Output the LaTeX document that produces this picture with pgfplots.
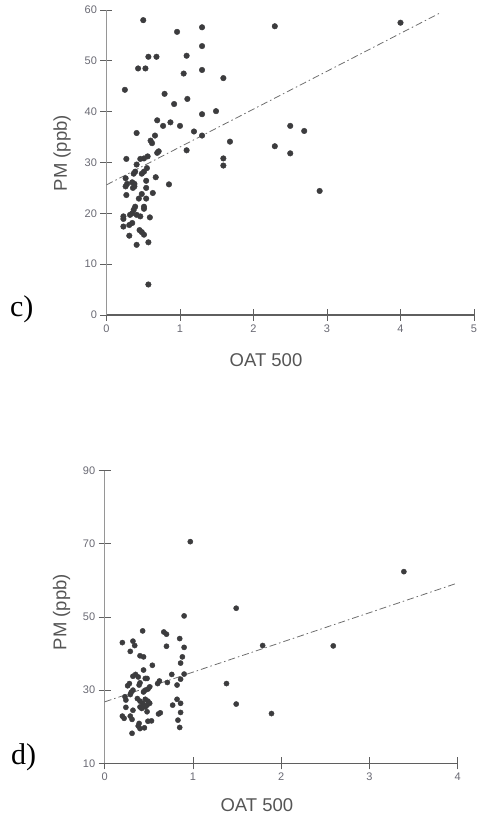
\documentclass[border=0pt]{standalone}
\usepackage{pgfplots}
\pgfplotsset{compat=1.18}
\usepackage{fontspec}
\setmainfont{Liberation Sans}
\newfontfamily\seriff{Liberation Serif}
\definecolor{markc}{RGB}{60,60,62}
\definecolor{tickc}{RGB}{105,105,115}
\definecolor{axc}{RGB}{150,150,150}
\definecolor{axb}{RGB}{95,95,95}
\definecolor{labc}{RGB}{85,85,85}
\definecolor{linec}{RGB}{110,110,110}

\pgfplotstableread{
x y
0.50 58.0
0.96 55.7
1.30 56.6
1.30 52.9
1.09 51.0
0.57 50.8
0.68 50.8
0.43 48.5
0.53 48.5
1.05 47.5
1.30 48.2
1.59 46.6
0.25 44.3
0.79 43.5
1.10 42.5
0.92 41.5
1.49 40.1
1.30 39.5
2.29 56.8
4.00 57.5
2.50 37.2
2.69 36.2
2.29 33.2
2.50 31.8
2.90 24.4
1.19 36.1
1.30 35.3
1.68 34.1
1.09 32.4
1.59 30.8
1.59 29.4
0.69 38.3
0.77 37.2
0.87 37.9
1.00 37.2
0.41 35.8
0.66 35.3
0.60 34.3
0.62 33.8
0.71 32.2
0.69 31.9
0.27 30.7
0.46 30.7
0.51 30.8
0.56 31.2
0.41 29.6
0.55 28.9
0.51 28.2
0.48 27.8
0.39 28.2
0.37 27.8
0.67 27.1
0.26 26.9
0.35 26.1
0.38 25.8
0.38 25.3
0.28 25.8
0.26 25.3
0.54 26.4
0.85 25.7
0.54 25.0
0.36 25.0
0.27 23.6
0.48 23.8
0.44 22.9
0.54 22.9
0.63 24.0
0.39 21.3
0.37 20.7
0.35 20.0
0.51 21.3
0.51 20.9
0.23 19.4
0.23 18.9
0.32 19.7
0.41 19.7
0.46 19.4
0.59 19.2
0.35 18.1
0.31 17.7
0.23 17.4
0.45 16.7
0.48 16.3
0.51 15.8
0.31 15.6
0.57 14.3
0.41 13.8
0.57 6.0
}\dataC

\pgfplotstableread{
x y
0.97 70.6
1.49 52.4
0.90 50.3
0.43 46.2
0.67 45.9
0.70 45.3
0.85 44.1
0.20 43.0
0.32 43.4
0.34 42.2
0.70 42.0
0.90 41.7
1.79 42.2
2.59 42.1
3.39 62.4
1.89 23.6
0.29 40.6
0.40 39.4
0.44 39.1
0.88 39.1
0.86 37.4
0.54 36.8
0.44 35.5
0.76 34.3
0.90 34.4
0.35 34.3
0.32 33.8
0.38 33.6
0.46 33.2
0.48 33.2
0.62 32.5
0.60 31.8
0.71 32.1
0.86 33.0
0.82 31.4
0.28 31.8
0.26 31.2
0.40 32.0
0.39 31.4
0.51 30.9
0.49 30.3
0.46 30.0
0.44 29.5
0.32 30.0
0.30 29.4
0.29 28.8
1.38 31.8
0.23 28.2
0.24 27.3
0.37 27.7
0.40 27.0
0.46 27.5
0.49 27.0
0.51 26.4
0.48 25.9
0.43 26.4
0.40 25.4
0.42 25.0
0.46 25.4
0.82 27.5
0.86 26.4
0.77 25.9
0.24 25.3
1.49 26.2
0.32 24.5
0.86 23.9
0.63 23.8
0.61 23.5
0.48 24.1
0.20 22.9
0.22 22.3
0.29 22.9
0.31 22.0
0.53 21.6
0.49 21.5
0.83 21.8
0.39 20.9
0.38 20.2
0.40 19.5
0.45 19.7
0.85 19.8
0.31 18.2
}\dataD

\pgfplotsset{
  myaxis/.style={
    scale only axis,
    anchor=south west,
    axis x line*=bottom,
    axis y line*=left,
    axis line style={-},
    x axis line style={draw=axb, line width=1.1pt},
    y axis line style={draw=axc, line width=1.4pt},
    tick align=center,
    major tick length=12pt,
    tick style={draw=axb, line width=0.9pt},
    /pgf/number format/assume math mode=true,
    ticklabel style={font=\fontsize{11}{13}\selectfont, text=tickc},
    clip=false,
  },
}
\tikzset{
  mylab/.style={font=\fontsize{18.5}{22}\selectfont, text=labc, anchor=center},
  panlab/.style={font=\seriff\fontsize{30}{32}\selectfont, anchor=base west, text=black},
}

\begin{document}
\begin{tikzpicture}[x=1pt,y=1pt]
\path[use as bounding box] (0,0) rectangle (481,822);

% ---- panel c ----
\begin{axis}[myaxis,
  at={(106.5pt,507pt)},
  width=367.5pt, height=305pt,
  xmin=0, xmax=5, ymin=0, ymax=60,
  xtick={0,1,2,3,4,5},
  ytick={0,10,20,30,40,50,60},
]
\addplot[only marks, mark=*, mark size=2.8pt, mark options={fill=markc, draw=markc}] table[x=x,y=y] {\dataC};
\addplot[draw=linec, line width=0.8pt, dash pattern=on 7pt off 3pt on 1.5pt off 3pt] coordinates {(0,25.6) (4.55,59.5)};
\node[mylab] at ([yshift=-45pt]rel axis cs:0.434,0) {OAT 500};
\node[mylab, rotate=90] at ([xshift=-44.5pt]rel axis cs:0,0.531) {PM (ppb)};
\node[panlab] at (rel axis cs:-0.272,-0.005) {c)};
\end{axis}

% ---- panel d ----
\begin{axis}[myaxis,
  at={(104.7pt,58.7pt)},
  width=353pt, height=292.6pt,
  xmin=0, xmax=4, ymin=10, ymax=90,
  xtick={0,1,2,3,4},
  ytick={10,30,50,70,90},
]
\addplot[only marks, mark=*, mark size=2.6pt, mark options={fill=markc, draw=markc}] table[x=x,y=y] {\dataD};
\addplot[draw=linec, line width=0.8pt, dash pattern=on 7pt off 3pt on 1.5pt off 3pt] coordinates {(0,26.8) (4,59.3)};
\node[mylab] at ([yshift=-42pt]rel axis cs:0.431,0) {OAT 500};
\node[mylab, rotate=90] at ([xshift=-43pt]rel axis cs:0,0.517) {PM (ppb)};
\node[panlab] at (rel axis cs:-0.275,-0.005) {d)};
\end{axis}
\end{tikzpicture}
\end{document}
